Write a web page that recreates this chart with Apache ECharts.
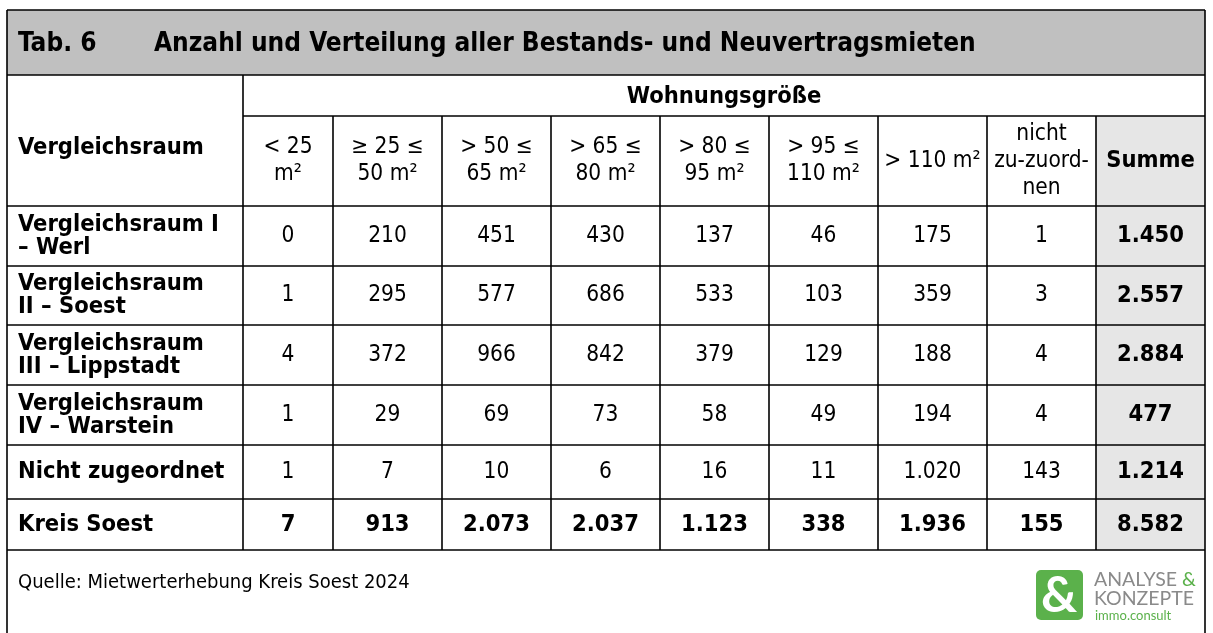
<!DOCTYPE html>
<html>
<head>
<meta charset="utf-8">
<script src="https://cdn.jsdelivr.net/npm/echarts@6/dist/echarts.min.js"></script>
<style>
  html, body { margin: 0; background: #fff; }
  #table_chart { width: 1213px; height: 633px; }
</style>
</head>
<body>
<div id="table_chart"></div>
<script>
// table content
var tabNo = 'Tab. 6'
var tabTitle = 'Anzahl und Verteilung aller Bestands- und Neuvertragsmieten'
var groupHeader = 'Wohnungsgröße'
var firstHeader = 'Vergleichsraum'
var columns = ['< 25\nm²', '≥ 25 ≤\n50 m²', '> 50 ≤\n65 m²', '> 65 ≤\n80 m²', '> 80 ≤\n95 m²',
  '> 95 ≤\n110 m²', '> 110 m²', 'nicht\nzu-zuord-\nnen', 'Summe']
var regions = ['Vergleichsraum I\n– Werl', 'Vergleichsraum\nII – Soest', 'Vergleichsraum\nIII – Lippstadt',
  'Vergleichsraum\nIV – Warstein', 'Nicht zugeordnet', 'Kreis Soest']
var werl = [0, 210, 451, 430, 137, 46, 175, 1, 1450]
var soest = [1, 295, 577, 686, 533, 103, 359, 3, 2557]
var lippstadt = [4, 372, 966, 842, 379, 129, 188, 4, 2884]
var warstein = [1, 29, 69, 73, 58, 49, 194, 4, 477]
var nichtZugeordnet = [1, 7, 10, 6, 16, 11, 1020, 143, 1214]
var kreisSoest = [7, 913, 2073, 2037, 1123, 338, 1936, 155, 8582]
var source = 'Quelle: Mietwerterhebung Kreis Soest 2024'

var rows = [werl, soest, lippstadt, warstein, nichtZugeordnet, kreisSoest]

// layout
var colX = [7, 243, 333, 442, 551, 660, 769, 878, 987, 1096, 1205]
var rowY = [206, 266, 325, 385, 445, 499, 550]
var yTop = 10, yTitle = 75, yGroup = 116, yEnd = 633
var xLeft = colX[0], xRight = colX[colX.length - 1]
var FONT = '"DejaVu Sans Condensed", "Noto Sans", sans-serif'

function fmt (n) {
  return String(n).replace(/\B(?=(\d{3})+(?!\d))/g, '.')
}
function line (x1, y1, x2, y2) {
  return { type: 'line', silent: true, shape: { x1: x1, y1: y1, x2: x2, y2: y2 },
    style: { stroke: '#000', lineWidth: 1.6 } }
}
function text (str, x, y, opt) {
  opt = opt || {}
  return { type: 'text', silent: true, style: {
    text: str, x: x, y: y,
    font: (opt.bold ? 'bold ' : '') + (opt.size || 22.5) + 'px ' + (opt.family || FONT),
    fill: opt.color || '#000', align: opt.align || 'center', verticalAlign: 'middle',
    lineHeight: opt.lh || 23 } }
}

var els = []
// backgrounds
els.push({ type: 'rect', silent: true, shape: { x: xLeft, y: yTop, width: xRight - xLeft, height: yTitle - yTop }, style: { fill: '#c0c0c0' } })
els.push({ type: 'rect', silent: true, shape: { x: colX[9], y: yGroup, width: xRight - colX[9], height: rowY[6] - yGroup }, style: { fill: '#e6e6e6' } })

// grid lines
els.push(line(xLeft, yTop, xRight, yTop))
els.push(line(xLeft, yTitle, xRight, yTitle))
els.push(line(colX[1], yGroup, xRight, yGroup))
rowY.forEach(function (y) { els.push(line(xLeft, y, xRight, y)) })
els.push(line(xLeft, yTop, xLeft, yEnd))
els.push(line(xRight, yTop, xRight, yEnd))
els.push(line(colX[1], yTitle, colX[1], rowY[6]))
for (var c = 2; c < colX.length - 1; c++) els.push(line(colX[c], yGroup, colX[c], rowY[6]))

// title
els.push(text(tabNo, 18, 44, { bold: true, size: 26, align: 'left' }))
els.push(text(tabTitle, 154, 44, { bold: true, size: 26, align: 'left' }))

// headers
els.push(text(groupHeader, (colX[1] + xRight) / 2, 97, { bold: true, size: 23.5 }))
els.push(text(firstHeader, 18, 148, { bold: true, size: 23.5, align: 'left' }))
columns.forEach(function (h, i) {
  var cx = (colX[i + 1] + colX[i + 2]) / 2
  var last = i === columns.length - 1
  els.push(text(h, cx, 161, { bold: last, size: last ? 23.5 : 22.5, lh: 27 }))
})

// body
rows.forEach(function (vals, r) {
  var cy = (rowY[r] + rowY[r + 1]) / 2
  var lastRow = r === rows.length - 1
  els.push(text(regions[r], 18, cy, { bold: true, size: 23.5, align: 'left' }))
  vals.forEach(function (v, i) {
    var cx = (colX[i + 1] + colX[i + 2]) / 2
    var b = lastRow || i === vals.length - 1
    els.push(text(fmt(v), cx, cy, { bold: b, size: b ? 23.5 : 22.5 }))
  })
})

// footer
els.push(text(source, 18, 583, { size: 20, align: 'left' }))

// logo
els.push({ type: 'rect', silent: true, shape: { x: 1036, y: 570, width: 47, height: 50, r: 5 }, style: { fill: '#5bb14b' } })
els.push(text('&', 1059, 596, { bold: true, size: 50, color: '#fff', family: 'Lato, sans-serif' }))
els.push({ type: 'text', silent: true, style: {
  text: '{g|ANALYSE }{a|&}', x: 1094, y: 580, verticalAlign: 'middle', align: 'left',
  rich: { g: { font: '19.5px Lato, sans-serif', fill: '#8a8a8a' }, a: { font: '19.5px Lato, sans-serif', fill: '#5bb14b' } } } })
els.push(text('KONZEPTE', 1094, 599, { size: 19.5, align: 'left', color: '#8a8a8a', family: 'Lato, sans-serif' }))
els.push(text('immo.consult', 1095, 616, { size: 13, align: 'left', color: '#5bb14b', family: 'Lato, sans-serif' }))

var tableChart = echarts.init(document.getElementById('table_chart'))
tableChart.setOption({
  backgroundColor: '#fff',
  animation: false,
  graphic: { elements: els }
})
</script>
</body>
</html>
